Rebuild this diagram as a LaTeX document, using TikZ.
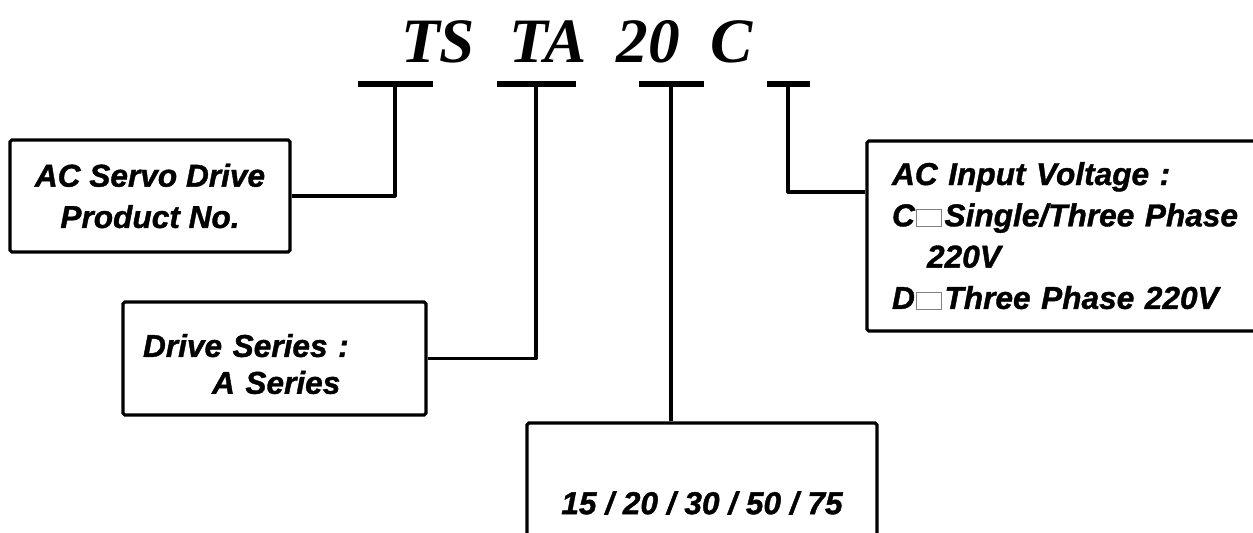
\documentclass[tikz,border=0pt]{standalone}
\usepackage{fontspec}
\setmainfont{Liberation Sans}[BoldItalicFeatures={FakeBold=1.2}]
\newfontfamily\codefont{Liberation Serif}
\usetikzlibrary{positioning, calc}
\tikzstyle{infobox} = [rectangle, draw=black, line width=1.8pt, rounded corners=1pt, inner sep=0pt, font=\fontsize{18pt}{23.5pt}\selectfont\bfseries\itshape]
\tikzstyle{codebar} = [rectangle, fill=black, minimum height=0.12cm, inner sep=0pt]
\tikzstyle{codetext} = [font=\fontsize{36pt}{40pt}\selectfont\codefont\bfseries\itshape, inner sep=0pt, anchor=base]
\tikzstyle{link} = [line width=1.8pt, line join=round]
\newcommand{\optbox}{\hspace{0.5pt}{\color{gray}\setlength{\fboxsep}{0pt}\setlength{\fboxrule}{0.6pt}\fbox{\rule{0pt}{0.32cm}\hspace{0.48cm}}}\hspace{1.5pt}}

\begin{document}
\begin{tikzpicture}[x=0.02cm, y=-0.02cm]
    \useasboundingbox (0,0) rectangle (1253,532);
    \clip (0,0) rectangle (1253,532);

    % model code
    \node (ts) [codetext] at (438,62) {TS};
    \node (ta) [codetext] at (548,62) {TA};
    \node (num) [codetext] at (648,62) {20};
    \node (volttxt) [codetext] at (732,62) {C};
    \node (tsbar) [codebar, minimum width=1.5cm] at (395,84) {};
    \node (tabar) [codebar, minimum width=1.58cm] at (536,84) {};
    \node (numbar) [codebar, minimum width=1.3cm] at (671,84) {};
    \node (vbar) [codebar, minimum width=0.86cm] at (788,84) {};

    % boxes
    \node (servo) [infobox, minimum width=5.6cm, minimum height=2.24cm, align=center] at (150,196)
        {AC Servo Drive\\Product No.};
    \node (series) [infobox, minimum width=6.06cm, minimum height=2.26cm, inner xsep=0.4cm,
        text width=5.26cm, align=left, font=\fontsize{18pt}{21pt}\selectfont\bfseries\itshape] at (274.5,358.5)
        {\rule{0pt}{0.68cm}Drive Series :\\\hspace*{1.38cm}A Series};
    \node (rating) [infobox, minimum width=7cm, minimum height=3.2cm] at (702,503) {15 / 20 / 30 / 50 / 75};
    \node (volt) [infobox, minimum width=8.26cm, minimum height=3.8cm, inner xsep=0.5cm,
        text width=7.26cm, align=left] at (1073.5,236)
        {AC Input Voltage :\\C\optbox Single/Three Phase\\\hspace*{0.7cm}220V\\D\optbox Three Phase 220V};

    \draw [link] (tsbar.south) |- (servo.east);
    \draw [link] (tabar.south) |- (series.east);
    \draw [link] (numbar.south) -- (numbar.south |- rating.north);
    \draw [link] (vbar.south) |- ([yshift=0.88cm]volt.west);
\end{tikzpicture}
\end{document}
